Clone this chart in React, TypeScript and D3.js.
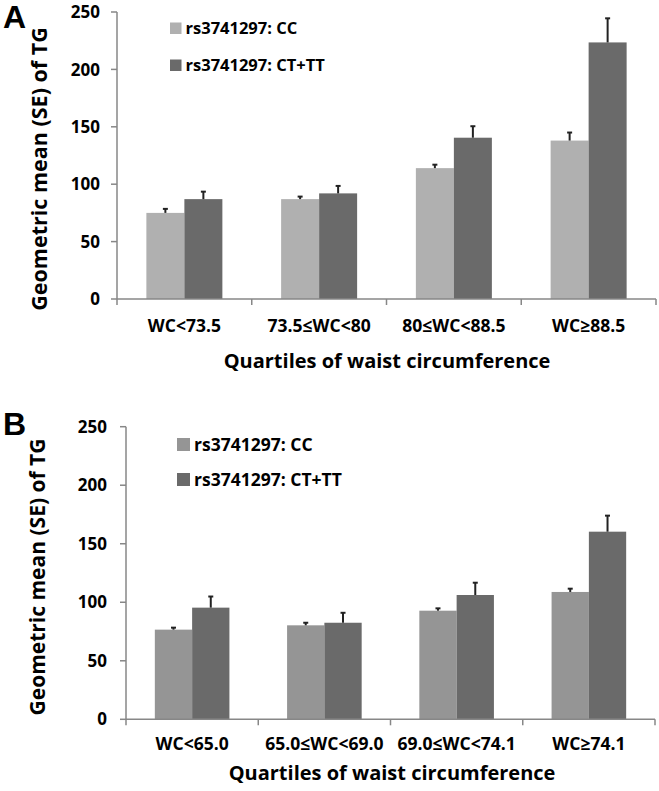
import React from "react";
import * as d3 from "d3";

const seriesNames = ["rs3741297: CC", "rs3741297: CT+TT"];
const yTicks = [0, 50, 100, 150, 200, 250];

const catsA = ["WC<73.5", "73.5≤WC<80", "80≤WC<88.5", "WC≥88.5"];
const ccA = [75, 87, 114, 138];
const ccSeA = [3.5, 2.2, 3, 7];
const ctA = [87, 92, 140.5, 223.5];
const ctSeA = [6.5, 6.5, 10, 21];

const catsB = ["WC<65.0", "65.0≤WC<69.0", "69.0≤WC<74.1", "WC≥74.1"];
const ccB = [76.6, 80.3, 92.8, 108.8];
const ccSeB = [1.7, 2.2, 2, 2.8];
const ctB = [95.4, 82.5, 106.2, 160.3];
const ctSeB = [9.5, 8.5, 10.5, 13.7];

const FONT = "'Open Sans', sans-serif";

type PanelProps = {
  letter: string;
  letterY: number;
  cats: string[];
  cc: number[];
  ccSe: number[];
  ct: number[];
  ctSe: number[];
  x0: number;
  x1: number;
  yTop: number;
  yBot: number;
  ccColor: string;
  legendX: number;
  legendY: number;
  legendSize: number;
  legendGap: number;
  legendFont: number;
  tickOffset: number;
  yTitleX: number;
  yTitleY: number;
  yTitleSize: number;
  xTitleX: number;
  xTitleY: number;
  catY: number;
};

function Panel(p: PanelProps) {
  const y = d3.scaleLinear().domain([0, 250]).range([p.yBot, p.yTop]);
  const x = d3.scaleBand<string>().domain(p.cats).range([p.x0, p.x1]).paddingInner(0).paddingOuter(0);
  const bw = x.bandwidth();
  const barW = bw * 0.282;
  const ctColor = "#6a6a6a";
  const axisColor = "#878787";
  const series = [
    { vals: p.cc, se: p.ccSe, color: p.ccColor, off: -barW },
    { vals: p.ct, se: p.ctSe, color: ctColor, off: 0 },
  ];
  return (
    <g>
      <text x={3} y={p.letterY} fontFamily="'Liberation Sans', Arial, sans-serif" fontWeight="bold" fontSize={32} fill="#000">{p.letter}</text>
      {series.map((s, si) =>
        s.vals.map((v, i) => {
          const bx = (x(p.cats[i]) as number) + bw / 2 + s.off;
          const cx = bx + barW / 2;
          const top = y(v + s.se[i]);
          return (
            <g key={`${si}-${i}`}>
              <rect x={bx} y={y(v)} width={barW} height={y(0) - y(v)} fill={s.color} />
              <line x1={cx} x2={cx} y1={y(v)} y2={top} stroke="#222" strokeWidth={2} />
              <line x1={cx - 2.5} x2={cx + 2.5} y1={top} y2={top} stroke="#222" strokeWidth={2} />
            </g>
          );
        })
      )}
      <line x1={p.x0} x2={p.x0} y1={p.yTop} y2={p.yBot} stroke={axisColor} strokeWidth={1.5} />
      <line x1={p.x0} x2={p.x1} y1={p.yBot} y2={p.yBot} stroke={axisColor} strokeWidth={1.5} />
      {yTicks.map((t) => (
        <g key={t}>
          <line x1={p.x0 - 6} x2={p.x0} y1={y(t)} y2={y(t)} stroke={axisColor} strokeWidth={1.5} />
          <text x={p.x0 - p.tickOffset} y={y(t)} dy="0.36em" textAnchor="end" fontFamily={FONT} fontWeight="bold" fontSize={17} fill="#000">{t}</text>
        </g>
      ))}
      {[...p.cats.map((c) => x(c) as number), p.x1].map((tx, i) => (
        <line key={i} x1={tx} x2={tx} y1={p.yBot} y2={p.yBot + 6} stroke={axisColor} strokeWidth={1.5} />
      ))}
      {p.cats.map((c) => (
        <text key={c} x={(x(c) as number) + bw / 2} y={p.catY} textAnchor="middle" fontFamily={FONT} fontWeight="bold" fontSize={17.5} fill="#000">{c}</text>
      ))}
      <text x={p.xTitleX} y={p.xTitleY} textAnchor="middle" fontFamily={FONT} fontWeight="bold" fontSize={20} fill="#000">Quartiles of waist circumference</text>
      <text transform={`translate(${p.yTitleX},${p.yTitleY}) rotate(-90)`} textAnchor="middle" fontFamily={FONT} fontWeight="bold" fontSize={p.yTitleSize} fill="#000">Geometric mean (SE) of TG</text>
      {seriesNames.map((n, i) => (
        <g key={n}>
          <rect x={p.legendX} y={p.legendY + i * p.legendGap} width={p.legendSize} height={p.legendSize} fill={i === 0 ? p.ccColor : ctColor} />
          <text x={p.legendX + p.legendSize + 4} y={p.legendY + i * p.legendGap + p.legendSize / 2} dy="0.36em" fontFamily={FONT} fontWeight="bold" fontSize={p.legendFont} fill="#000">{n}</text>
        </g>
      ))}
    </g>
  );
}

export default function App() {
  return (
    <svg width={659} height={791} style={{ position: "absolute", left: 0, top: 0, background: "#fff" }}>
      <rect width={659} height={791} fill="#fff" />
      <Panel letter="A" letterY={28} cats={catsA} cc={ccA} ccSe={ccSeA} ct={ctA} ctSe={ctSeA}
        x0={117} x1={656} yTop={12} yBot={299} ccColor="#b0b0b0" legendX={170} legendY={22.5} legendSize={11.5} legendGap={37} legendFont={16.5} tickOffset={17}
        yTitleX={46.5} yTitleY={169} yTitleSize={21.5} xTitleX={387} xTitleY={368} catY={332} />
      <Panel letter="B" letterY={435} cats={catsB} cc={ccB} ccSe={ccSeB} ct={ctB} ctSe={ctSeB}
        x0={126} x1={655} yTop={426.7} yBot={719.3} ccColor="#959595" legendX={177} legendY={438} legendSize={13} legendGap={35} legendFont={17.5} tickOffset={19}
        yTitleX={45} yTitleY={577} yTitleSize={21} xTitleX={392} xTitleY={780} catY={750} />
    </svg>
  );
}
